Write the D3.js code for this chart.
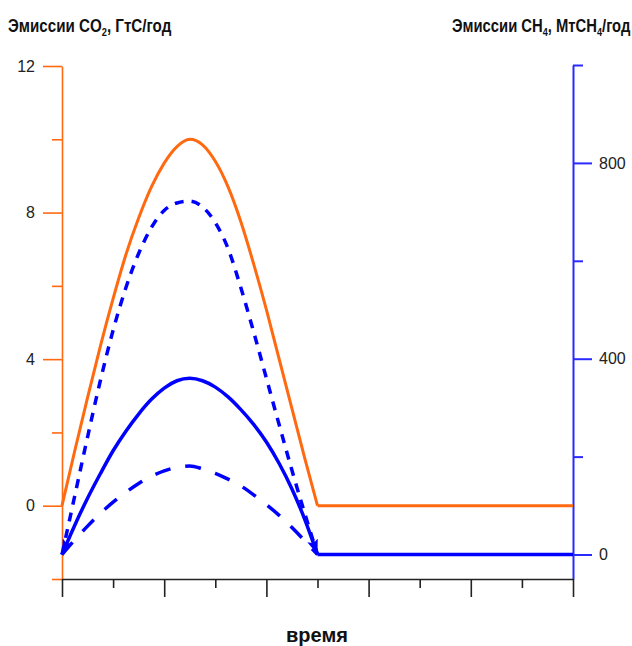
<!DOCTYPE html>
<html lang="ru">
<head>
    <meta charset="UTF-8">
    <title>Эмиссии CO2 и CH4</title>
    <style>
        body { margin: 0; background: #fff; }
        text { font-family: "Liberation Sans", Arial, sans-serif; }
    </style>
</head>
<body></body>
<script src="https://cdn.jsdelivr.net/npm/d3@7"></script>
<script>
    // время (условные единицы)
    const time = [0, 0.25, 0.5, 0.75, 1, 1.25, 1.5, 1.75, 2, 2.25, 2.5,
                  2.75, 3, 3.25, 3.5, 3.75, 4, 4.25, 4.5, 4.75, 5, 10];
    // CO2, ГтС/год (левая ось)
    const co2 = [0, 1.5, 2.95, 4.35, 5.65, 6.85, 7.85, 8.7, 9.35, 9.8, 10,
                 9.85, 9.4, 8.7, 7.75, 6.6, 5.35, 4.0, 2.65, 1.3, 0, 0];
    // CH4, МтСН4/год (правая ось) - сплошная
    const ch4 = [0, 60, 115, 165, 212, 252, 287, 317, 340, 355, 360,
                 355, 342, 322, 296, 266, 230, 186, 134, 72, 0, 0];
    // CH4 - пунктир (короткий штрих)
    const ch4High = [0, 120, 240, 355, 458, 545, 615, 668, 703, 718, 722,
                     710, 678, 625, 545, 455, 360, 265, 172, 84, 0];
    // CH4 - длинный штрих
    const ch4Low = [0, 30, 58, 84, 107, 127, 145, 160, 171, 178, 181,
                    175, 166, 154, 140, 122, 102, 80, 55, 28, 0];

    const leftTicks = [-2, 0, 2, 4, 6, 8, 10, 12];
    const rightTicks = [0, 200, 400, 600, 800, 1000];
    const bottomTicks = d3.range(0, 11);

    const width = 632, height = 646;
    const orange = "#ff6a10", blue = "#0000ff";

    const svg = d3.select("body").append("svg")
        .attr("width", width)
        .attr("height", height);

    const x = d3.scaleLinear().domain([0, 10]).range([62, 573]);
    const yL = d3.scaleLinear().domain([-2, 12]).range([579, 66]);
    const yR = d3.scaleLinear().domain([-50, 1000]).range([579, 65]);

    // arrow marker
    svg.append("defs").append("marker")
        .attr("id", "arr")
        .attr("markerUnits", "userSpaceOnUse")
        .attr("markerWidth", 16).attr("markerHeight", 12)
        .attr("viewBox", "0 0 16 12")
        .attr("refX", 15).attr("refY", 6)
        .attr("orient", "auto-start-reverse")
        .append("path")
        .attr("d", "M0,0.5 L15,6 L0,11.5 L3,6 Z")
        .attr("fill", blue);

    // left axis
    const gL = svg.append("g").attr("transform", "translate(62,0)")
        .call(d3.axisLeft(yL).tickValues(leftTicks).tickSizeOuter(0)
            .tickFormat(d => d % 4 === 0 ? d : ""));
    gL.select(".domain").attr("stroke", orange).attr("stroke-width", 1.6);
    gL.selectAll(".tick line").attr("stroke", orange).attr("stroke-width", 1.6)
        .attr("x2", d => d % 4 === 0 ? -19 : -10);
    gL.selectAll(".tick text").attr("x", -27).attr("font-size", 16)
        .attr("fill", "#222").attr("font-family", "Liberation Sans, Arial, sans-serif");

    // right axis
    const gR = svg.append("g").attr("transform", "translate(573,0)")
        .call(d3.axisRight(yR).tickValues(rightTicks).tickSizeOuter(0)
            .tickFormat(d => d % 400 === 0 ? d : ""));
    gR.select(".domain").attr("stroke", "#2a2aff").attr("stroke-width", 2);
    gR.selectAll(".tick line").attr("stroke", "#2a2aff").attr("stroke-width", 2)
        .attr("x2", d => d % 400 === 0 ? 19 : 10);
    gR.selectAll(".tick text").attr("x", 26).attr("font-size", 16)
        .attr("fill", "#222").attr("font-family", "Liberation Sans, Arial, sans-serif");

    // bottom axis
    const gB = svg.append("g").attr("transform", "translate(0,579)")
        .call(d3.axisBottom(x).tickValues(bottomTicks).tickSizeOuter(0)
            .tickFormat(""));
    gB.select(".domain").attr("stroke", "#222").attr("stroke-width", 1.6);
    gB.selectAll(".tick line").attr("stroke", "#222").attr("stroke-width", 1.6)
        .attr("y2", d => d % 2 === 0 ? 18 : 9);

    // data helpers
    const hump = (vals) => time.map((t, i) => [t, vals[i]]).filter(p => p[0] <= 5 && p[1] !== undefined);
    const flat = (vals) => time.map((t, i) => [t, vals[i]]).filter(p => p[0] >= 5 && p[1] !== undefined);

    const lineL = d3.line().x(d => x(d[0])).y(d => yL(d[1])).curve(d3.curveMonotoneX);
    const lineR = d3.line().x(d => x(d[0])).y(d => yR(d[1])).curve(d3.curveMonotoneX);
    const linL = d3.line().x(d => x(d[0])).y(d => yL(d[1]));
    const linR = d3.line().x(d => x(d[0])).y(d => yR(d[1]));

    const plot = svg.append("g").attr("fill", "none");

    plot.append("path").attr("d", lineR(hump(ch4Low)))
        .attr("stroke", blue).attr("stroke-width", 3.5)
        .attr("stroke-dasharray", "16,15");

    plot.append("path").attr("d", lineR(hump(ch4High)))
        .attr("stroke", blue).attr("stroke-width", 3.5)
        .attr("stroke-dasharray", "9,8");

    plot.append("path").attr("d", lineL(hump(co2)))
        .attr("stroke", orange).attr("stroke-width", 3);
    plot.append("path").attr("d", linL(flat(co2)))
        .attr("stroke", orange).attr("stroke-width", 3);

    plot.append("path").attr("d", lineR(hump(ch4)))
        .attr("stroke", blue).attr("stroke-width", 3.5)
        .attr("marker-start", "url(#arr)")
        .attr("marker-end", "url(#arr)");
    plot.append("path").attr("d", linR(flat(ch4)))
        .attr("stroke", blue).attr("stroke-width", 3.5);

    // titles
    function title(parts, anchorX, baseline, targetW, alignRight) {
        const g = svg.append("g");
        const t = g.append("text")
            .attr("font-weight", "bold").attr("font-size", 18).attr("fill", "#111")
            .attr("font-family", "Liberation Sans Narrow, Liberation Sans, Arial, sans-serif");
        parts.forEach(p => {
            if (p.sub) {
                t.append("tspan").attr("font-size", 11).attr("dy", 4).text(p.text);
            } else {
                t.append("tspan").attr("font-size", 18).attr("dy", p.after ? -4 : 0).text(p.text);
            }
        });
        const w = t.node().getBBox().width;
        const s = targetW / w;
        const x0 = alignRight ? anchorX - w * s : anchorX;
        g.attr("transform", `translate(${x0},${baseline}) scale(${s},1)`);
    }

    title([{text: "Эмиссии CO"}, {text: "2", sub: true}, {text: ", ГтС/год", after: true}],
        8, 31.5, 164, false);
    title([{text: "Эмиссии CH"}, {text: "4", sub: true}, {text: ", МтСН", after: true},
           {text: "4", sub: true}, {text: "/год", after: true}],
        631, 31.5, 179, true);

    svg.append("text")
        .attr("x", 317).attr("y", 642)
        .attr("text-anchor", "middle")
        .attr("font-size", 20).attr("font-weight", "bold").attr("fill", "#111")
        .text("время");
</script>
</html>
